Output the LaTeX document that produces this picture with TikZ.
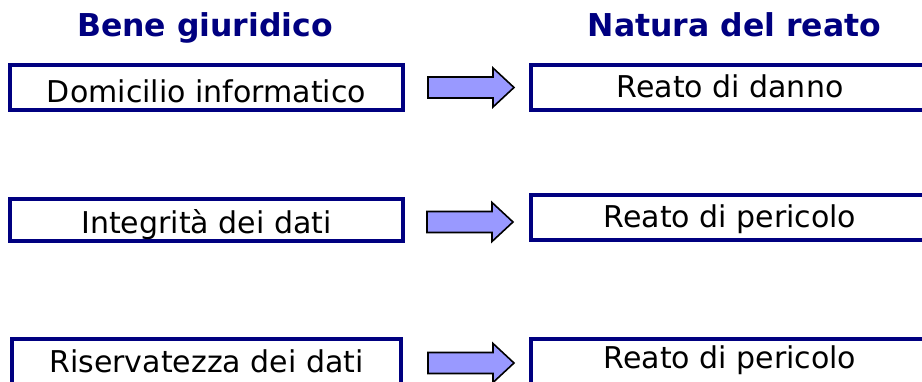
\documentclass[tikz,border=0pt]{standalone}
\usepackage{fontspec}
\setmainfont{DejaVu Sans}
\usetikzlibrary{calc}
\definecolor{navy}{HTML}{000080}
\definecolor{arrowfill}{HTML}{9999FF}
\tikzset{
  box/.style={draw=navy, line width=4.2pt, rectangle, inner sep=0pt, outer sep=0pt, minimum width=393pt},
  txt/.style={anchor=base, inner sep=0pt, font=\fontsize{30}{36}\selectfont, text=black},
  head/.style={anchor=base, inner sep=0pt, font=\fontsize{31.5}{38}\selectfont\bfseries, text=navy},
  barrow/.style={draw=black, line width=1.6pt, fill=arrowfill, line join=miter}
}
\newcommand\blockarr[1]{%
  \draw[barrow] ($(#1)+(0,-10.5)$) -- ++(65,0) -- ++(0,-9) -- ++(21,19.5)
    -- ++(-21,19.5) -- ++(0,-9) -- ++(-65,0) -- cycle;}
\begin{document}
\begin{tikzpicture}[x=1pt, y=-1pt]
\clip (0,0) rectangle (922,382);
\fill[white] (0,0) rectangle (922,382);
% headers
\node[head] (h1) at (205,37) {Bene giuridico};
\node[head] (h2) at (734.5,37) {Natura del reato};
% row 1
\node[box, minimum height=45pt] (l1) at (206.5,87.5) {};
\node[txt] (t1) at ($(l1.south)+(0,-7)$) {Domicilio informatico};
\node[box, minimum height=45pt, minimum width=398pt] (r1) at (730,87.5) {};
\node[txt] (u1) at ($(r1.south)+(0,-12)$) {Reato di danno};
\coordinate (a1) at (428,87.5);
\blockarr{a1}
% row 2
\node[box, minimum height=42pt] (l2) at (206.5,220) {};
\node[txt] (t2) at ($(l2.south)+(0,-7)$) {Integrità dei dati};
\node[box, minimum height=45pt, minimum width=398pt] (r2) at (730,217.5) {};
\node[txt] (u2) at ($(r2.south)+(0,-12)$) {Reato di pericolo};
\coordinate (a2) at (427,222);
\blockarr{a2}
% row 3
\node[box, minimum height=45pt, minimum width=389pt] (l3) at (206.5,361.5) {};
\node[txt] (t3) at ($(l3.south)+(0,-11)$) {Riservatezza dei dati};
\node[box, minimum height=45pt, minimum width=398pt] (r3) at (730,361.5) {};
\node[txt] (u3) at ($(r3.south)+(0,-15)$) {Reato di pericolo};
\coordinate (a3) at (428,363);
\blockarr{a3}
\end{tikzpicture}
\end{document}
